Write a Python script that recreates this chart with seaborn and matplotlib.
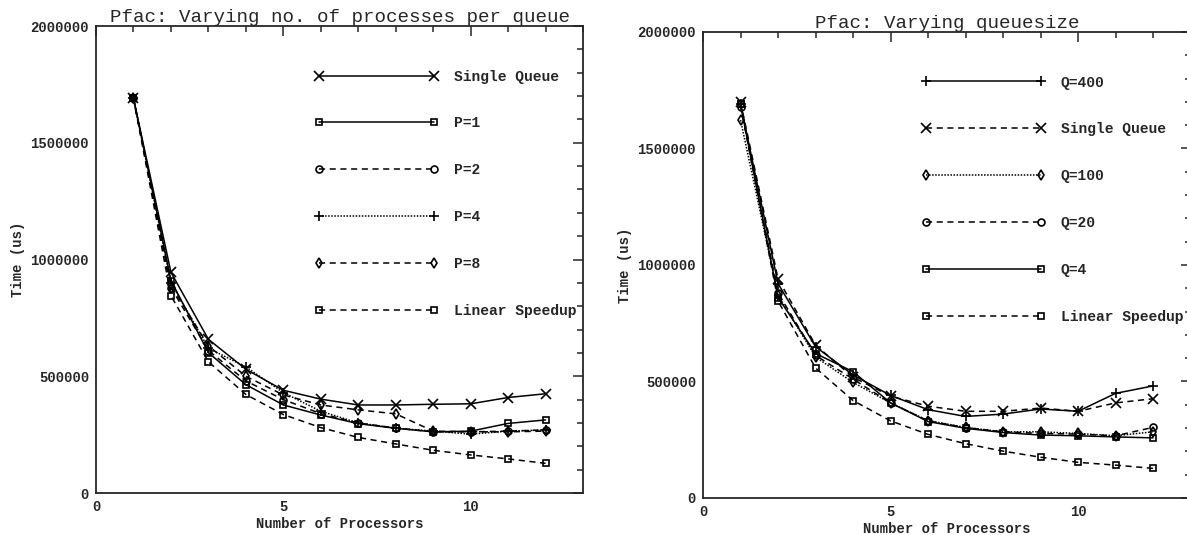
import numpy as np
import pandas as pd
import matplotlib
matplotlib.use("Agg")
import matplotlib.pyplot as plt
from matplotlib.ticker import MultipleLocator, FuncFormatter
import seaborn as sns

# number of processors (x axis for every series)
procs = [1, 2, 3, 4, 5, 6, 7, 8, 9, 10, 11, 12]

# left panel: varying no. of processes per queue
left_labels = ["Single Queue", "P=1", "P=2", "P=4", "P=8", "Linear Speedup"]
left_single = [1690000, 945000, 658000, 530000, 440000, 402000, 377000, 377000, 380000, 382000, 409000, 425000]
left_p1 = [1690000, 910000, 601000, 464000, 377000, 334000, 297000, 277000, 262000, 265000, 298000, 313000]
left_p2 = [1690000, 880000, 610000, 480000, 400000, 340000, 300000, 278000, 262000, 262000, 265000, 270000]
left_p4 = [1690000, 900000, 620000, 540000, 430000, 350000, 300000, 278000, 265000, 252000, 265000, 270000]
left_p8 = [1690000, 890000, 630000, 500000, 420000, 377000, 356000, 339000, 265000, 262000, 262000, 265000]
left_linear = [1690000, 845000, 562000, 422000, 336000, 280000, 238000, 210000, 183000, 163000, 146000, 127000]

# right panel: varying queuesize
right_labels = ["Q=400", "Single Queue", "Q=100", "Q=20", "Q=4", "Linear Speedup"]
right_q400 = [1690000, 920000, 649000, 528000, 440000, 379000, 350000, 360000, 382000, 372000, 449000, 481000]
right_single = [1700000, 940000, 656000, 518000, 437000, 394000, 372000, 372000, 386000, 372000, 408000, 426000]
right_q100 = [1622000, 870000, 605000, 496000, 408000, 332000, 303000, 284000, 284000, 277000, 267000, 284000]
right_q20 = [1680000, 880000, 612000, 510000, 408000, 331000, 302000, 284000, 277000, 274000, 267000, 303000]
right_q4 = [1690000, 860000, 620000, 542000, 408000, 328000, 299000, 281000, 270000, 267000, 262000, 258000]
right_linear = [1690000, 845000, 558000, 418000, 331000, 273000, 233000, 201000, 175000, 153000, 141000, 127000]

sns.set_style("white")
plt.rcParams['font.family'] = ['Liberation Mono', 'DejaVu Sans']
plt.rcParams['axes.linewidth'] = 1.3
plt.rcParams['xtick.direction'] = 'in'
plt.rcParams['ytick.direction'] = 'in'

fig = plt.figure(figsize=(11.87, 5.35), dpi=100)
ax1 = fig.add_axes([0.0809, 0.0785, 0.4103, 0.8729])
ax2 = fig.add_axes([0.5923, 0.0692, 0.4107, 0.8710])

dash = (4, 3)
dot = (1, 1)

left_series = [
    (left_single, "x", "", False),
    (left_p1, "s", "", True),
    (left_p2, "o", dash, True),
    (left_p4, "+", dot, False),
    (left_p8, "d", dash, True),
    (left_linear, "s", dash, True),
]
right_series = [
    (right_q400, "+", "", False),
    (right_single, "x", dash, False),
    (right_q100, "d", dot, True),
    (right_q20, "o", dash, True),
    (right_q4, "s", "", True),
    (right_linear, "s", dash, True),
]


def draw_panel(ax, series, labels, title):
    for (vals, mk, ds, hollow), lab in zip(series, labels):
        df = pd.DataFrame({"procs": procs, "time": vals})
        kw = dict(marker=mk, markersize=7, markeredgewidth=1.2, color="black",
                  markeredgecolor="black", linewidth=1.1)
        if hollow:
            kw["markerfacecolor"] = "none"
            kw["markersize"] = 5
        line = sns.lineplot(data=df, x="procs", y="time", ax=ax, label=lab, **kw).lines[-1]
        if ds:
            line.set_dashes(ds)
    ax.set_xlim(0, 13)
    ax.set_ylim(0, 2000000)
    ax.xaxis.set_major_locator(MultipleLocator(5))
    ax.xaxis.set_minor_locator(MultipleLocator(1))
    ax.yaxis.set_major_locator(MultipleLocator(500000))
    ax.yaxis.set_minor_locator(MultipleLocator(100000))
    ax.yaxis.set_major_formatter(FuncFormatter(lambda v, p: "%d" % v))
    ax.tick_params(which="both", top=True, right=True, width=1.1)
    ax.tick_params(which="major", length=7, labelsize=10, pad=5)
    ax.tick_params(which="minor", length=4)
    for t in ax.get_xticklabels() + ax.get_yticklabels():
        t.set_fontweight("bold")
    ax.set_xlabel("Number of Processors", fontsize=10, fontweight="bold", labelpad=2)
    ax.set_ylabel("Time (us)", fontsize=10, fontweight="bold", labelpad=4)
    ax.set_title(title, fontsize=13.8, pad=3)
    ax.legend(loc="upper left", bbox_to_anchor=(5.83, 1813000), bbox_transform=ax.transData,
              numpoints=2, handlelength=8.5, handletextpad=1.05, labelspacing=2.25,
              frameon=False, borderpad=0, borderaxespad=0,
              prop={"family": "Liberation Mono", "weight": "bold", "size": 10.5})


draw_panel(ax1, left_series, left_labels, "Pfac: Varying no. of processes per queue")
draw_panel(ax2, right_series, right_labels, "Pfac: Varying queuesize")

fig.savefig("out.png", dpi=100)
